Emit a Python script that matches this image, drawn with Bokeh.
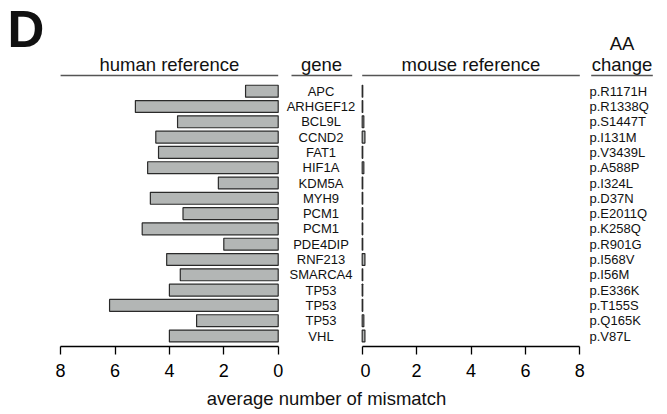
from bokeh.plotting import figure
from bokeh.models import Range1d
from bokeh.layouts import column, row
from bokeh.embed import file_html
from bokeh.resources import INLINE
from bokeh.core.properties import value

# ---------------- data ----------------
genes = ["APC", "ARHGEF12", "BCL9L", "CCND2", "FAT1", "HIF1A", "KDM5A", "MYH9",
         "PCM1", "PCM1", "PDE4DIP", "RNF213", "SMARCA4", "TP53", "TP53", "TP53", "VHL"]
aa_changes = ["p.R1171H", "p.R1338Q", "p.S1447T", "p.I131M", "p.V3439L", "p.A588P",
              "p.I324L", "p.D37N", "p.E2011Q", "p.K258Q", "p.R901G", "p.I568V",
              "p.I56M", "p.E336K", "p.T155S", "p.Q165K", "p.V87L"]
human_mismatch = [1.2, 5.25, 3.7, 4.5, 4.4, 4.8, 2.2, 4.7, 3.5, 5.0, 2.0, 4.1,
                  3.6, 4.0, 6.2, 3.0, 4.0]
mouse_mismatch = [0.02, 0.02, 0.06, 0.1, 0.02, 0.06, 0.02, 0.02, 0.02, 0.02, 0.02,
                  0.1, 0.02, 0.02, 0.02, 0.06, 0.1]
tick_values = [0, 2, 4, 6, 8]
axis_max = 8
panel_titles = ["human reference", "gene", "mouse reference"]
aa_title = ["AA", "change"]
x_title = "average number of mismatch"
panel_letter = "D"

rows = list(range(len(genes)))

# ---------------- layout constants (pixels) ----------------
FONT = "Liberation Sans"
W, H = 667, 414
TOP_H = 380
AXIS_Y = 346          # canvas y of the axis line
SPLIT = 360           # canvas x where left figure ends
PX = 27.2             # pixels per unit
H0 = 277.7            # canvas x of human zero
M0 = 361.7            # canvas x of mouse zero
ROW0 = 90.7           # canvas y of first row centre
ROWSTEP = 15.3
BAR_FILL = "#b3b6b5"
BAR_LINE = "#2a2a2a"
HEAD_MID = 63.6
ULINE_Y = 75
HEAD_SIZE = "18.5px"


def yrange():
    return Range1d(start=(AXIS_Y - ROW0) / ROWSTEP, end=-ROW0 / ROWSTEP)


def style_axis(p):
    ax = p.xaxis[0]
    ax.ticker = tick_values
    ax.bounds = (0, axis_max)
    ax.axis_line_color = "black"
    ax.axis_line_width = 1.3
    ax.major_tick_line_color = "black"
    ax.major_tick_line_width = 1.3
    ax.major_tick_out = 8
    ax.major_tick_in = 0
    ax.minor_tick_line_color = None
    ax.major_label_text_font = FONT
    ax.major_label_text_font_size = "18px"
    ax.major_label_text_color = "black"
    ax.major_label_standoff = 9


def base_fig(width, xr, px_x):
    p = figure(width=width, height=TOP_H, x_range=xr, y_range=yrange(),
               output_backend="svg", toolbar_location=None, y_axis_location=None,
               min_border_left=0, min_border_right=0, min_border_top=0,
               min_border_bottom=TOP_H - AXIS_Y)
    p.extra_x_ranges = {"px": Range1d(*px_x)}
    p.extra_y_ranges = {"px": Range1d(AXIS_Y, 0)}
    p.outline_line_color = None
    p.xgrid.visible = False
    p.ygrid.visible = False
    p.background_fill_color = "white"
    p.border_fill_color = "white"
    style_axis(p)
    return p


def txt(p, x, y, t, size, align="center", xr="default", yr="default", bold=False):
    p.text(x=x, y=y, text=t, x_range_name=xr, y_range_name=yr,
           text_font=value(FONT), text_font_size=value(size), text_align=align,
           text_baseline="middle", text_color="#111111",
           text_font_style="bold" if bold else "normal")


# ---------------- left: human reference + genes ----------------
pl = base_fig(SPLIT, Range1d(start=H0 / PX, end=(H0 - SPLIT) / PX), (0, SPLIT))
pl.hbar(y=rows, left=0, right=human_mismatch, height=0.78,
        fill_color=BAR_FILL, line_color=BAR_LINE, line_width=1.2)
txt(pl, [320.5] * len(genes), rows, genes, "13px", xr="px")
txt(pl, [axis_max / 2], [HEAD_MID], [panel_titles[0]], HEAD_SIZE, yr="px")
pl.segment(x0=[axis_max], x1=[0], y0=[ULINE_Y], y1=[ULINE_Y], y_range_name="px",
           line_color="#555555", line_width=1.3)
txt(pl, [321], [HEAD_MID], [panel_titles[1]], HEAD_SIZE, xr="px", yr="px")
pl.segment(x0=[291], x1=[351.7], y0=[ULINE_Y], y1=[ULINE_Y], x_range_name="px",
           y_range_name="px", line_color="#555555", line_width=1.3)
txt(pl, [7], [28.5], [panel_letter], "51px", align="left", xr="px", yr="px", bold=True)

# ---------------- right: mouse reference + AA change ----------------
pr = base_fig(W - SPLIT, Range1d(start=(SPLIT - M0) / PX, end=(W - M0) / PX), (SPLIT, W))
pr.hbar(y=rows, left=0, right=mouse_mismatch, height=0.78,
        fill_color=BAR_FILL, line_color=BAR_LINE, line_width=1.2)
txt(pr, [589] * len(aa_changes), rows, aa_changes, "13px", align="left", xr="px")
txt(pr, [axis_max / 2], [HEAD_MID], [panel_titles[2]], HEAD_SIZE, yr="px")
pr.segment(x0=[0], x1=[axis_max], y0=[ULINE_Y], y1=[ULINE_Y], y_range_name="px",
           line_color="#555555", line_width=1.3)
txt(pr, [621.5], [43.3], [aa_title[0]], HEAD_SIZE, xr="px", yr="px")
txt(pr, [621.5], [HEAD_MID], [aa_title[1]], HEAD_SIZE, xr="px", yr="px")
pr.segment(x0=[590.7], x1=[652.3], y0=[ULINE_Y], y1=[ULINE_Y], x_range_name="px",
           y_range_name="px", line_color="#555555", line_width=1.3)

# ---------------- bottom: shared axis title ----------------
pb = figure(width=W, height=H - TOP_H, x_range=Range1d(0, W), y_range=Range1d(H - TOP_H, 0),
            output_backend="svg", toolbar_location=None, x_axis_location=None,
            y_axis_location=None, min_border=0)
pb.outline_line_color = None
pb.xgrid.visible = False
pb.ygrid.visible = False
txt(pb, [326], [17.8], [x_title], HEAD_SIZE)

layout = column(row(pl, pr, spacing=0), pb, spacing=0)

with open("out.html", "w") as f:
    f.write(file_html(layout, INLINE))
